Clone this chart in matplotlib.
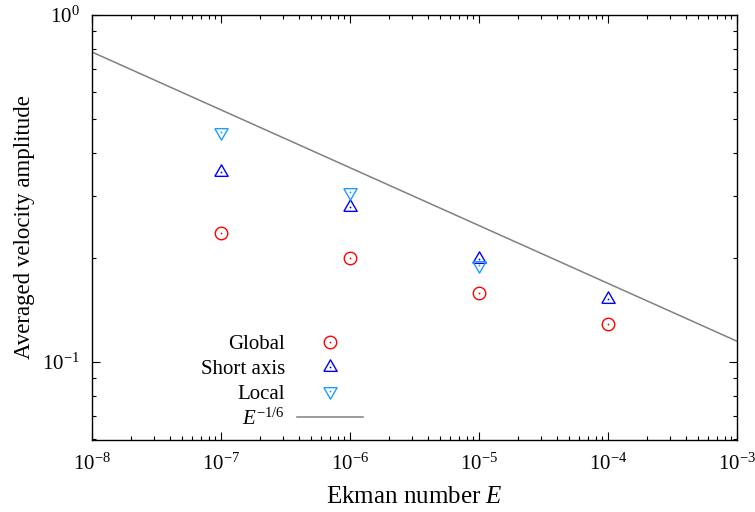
import numpy as np
import matplotlib
matplotlib.use('Agg')
import matplotlib.pyplot as plt
from matplotlib.legend_handler import HandlerTuple
from matplotlib.ticker import LogLocator, NullFormatter

plt.rcParams['font.family'] = 'Liberation Serif'
plt.rcParams['mathtext.fontset'] = 'custom'
plt.rcParams['mathtext.rm'] = 'Liberation Serif'
plt.rcParams['mathtext.it'] = 'Liberation Serif:italic'

# ── Data ─────────────────────────────────────────────────────────────────────
E_global = [1e-7, 1e-6, 1e-5, 1e-4]
U_global = [0.235, 0.1995, 0.158, 0.129]

E_short = [1e-7, 1e-6, 1e-5, 1e-4]
U_short = [0.353, 0.279, 0.198, 0.152]

E_local = [1e-7, 1e-6, 1e-5]
U_local = [0.461, 0.310, 0.190]

FIT_C = 0.0363
FIT_EXP = -1 / 6

RED = '#ff0000'
BLUE = '#0000ff'
LBLUE = '#1e9bff'
GREY = '#808080'

# equilateral triangles (gnuplot-like)
TRI_UP = [(-1, -0.58), (1, -0.58), (0, 1.15), (-1, -0.58)]
TRI_DN = [(x, -y) for x, y in TRI_UP]

fig = plt.figure(figsize=(7.55, 5.12), dpi=100)
ax = fig.add_axes([0.1219, 0.1406, 0.8543, 0.8301])

E_fit = np.logspace(-8, -3, 50)
fit_line, = ax.plot(E_fit, FIT_C * E_fit ** FIT_EXP, color=GREY, lw=1.1, zorder=1)

def series(E, U, marker, color, ms):
    h1, = ax.plot(E, U, ls='none', marker=marker, ms=ms, mfc='none', mec=color, mew=1.0, zorder=3)
    h2, = ax.plot(E, U, ls='none', marker='o', ms=1.3, mfc=color, mec=color, mew=0, zorder=4)
    return (h1, h2)

hg = series(E_global, U_global, 'o', RED, 9)
hs = series(E_short, U_short, TRI_UP, BLUE, 11)
hl = series(E_local, U_local, TRI_DN, LBLUE, 11)

ax.set_xscale('log')
ax.set_yscale('log')
ax.set_xlim(1e-8, 1e-3)
ax.set_ylim(0.0596, 1.0)

ax.yaxis.set_major_locator(LogLocator(base=10, numticks=10))
ax.yaxis.set_minor_locator(LogLocator(base=10, subs=np.arange(2, 10), numticks=10))
ax.yaxis.set_minor_formatter(NullFormatter())
ax.xaxis.set_minor_locator(LogLocator(base=10, subs=np.arange(2, 10), numticks=10))
ax.xaxis.set_minor_formatter(NullFormatter())

ax.tick_params(which='both', direction='in', top=True, right=True, labelsize=15)
ax.tick_params(axis='x', pad=10)
ax.tick_params(axis='y', pad=9)
ax.tick_params(which='major', length=6, width=0.8)
ax.tick_params(which='minor', length=3, width=0.8)
for s in ax.spines.values():
    s.set_linewidth(1.0)

ax.set_xlabel('Ekman number $E$', fontsize=18, labelpad=8)
ax.set_ylabel('Averaged velocity amplitude', fontsize=16.5, labelpad=5)

leg = ax.legend([hg, hs, hl, fit_line],
                ['Global', 'Short axis', 'Local', '$E^{-1/6}$'],
                handler_map={tuple: HandlerTuple(ndivide=1, pad=0)},
                loc='lower left', bbox_to_anchor=(0.1555, 0.0045),
                markerfirst=False, frameon=False, fontsize=15,
                handlelength=3.17, handletextpad=0.58, labelspacing=0.24,
                borderaxespad=0)
for t in leg.get_texts():
    t.set_ha('right')
leg._legend_box.align = 'right'
for vp in leg._legend_box.get_children()[1].get_children():
    vp.align = 'right'

fig.savefig('out.png', dpi=100)
